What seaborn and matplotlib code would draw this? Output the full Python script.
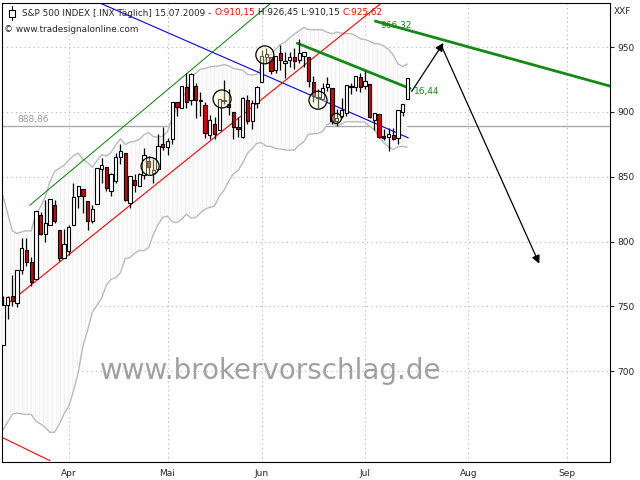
import numpy as np
import pandas as pd
import seaborn as sns
import matplotlib
matplotlib.use("Agg")
import matplotlib.pyplot as plt
from matplotlib.patches import Ellipse

closes = [750.7,756.6,753.9,778.1,794.4,784.0,768.5,823.0,806.1,813.9,832.9,815.9,787.5,797.9,
          811.1,834.4,842.5,835.5,815.6,825.2,856.6,858.7,841.5,852.1,865.3,869.6,832.4,850.1,843.6,851.9,866.2,857.5,855.2,873.6,872.8,
          877.5,907.2,903.8,919.5,907.4,929.2,909.2,908.4,883.9,893.1,882.9,909.7,908.1,903.5,888.3,887.0,910.3,893.1,906.8,919.1,
          942.9,944.7,931.8,942.5,940.1,939.1,942.4,939.2,944.9,946.2,923.7,912.0,910.7,918.4,921.2,893.0,895.1,900.9,920.3,918.9,927.2,919.3,
          923.3,896.4,898.7,881.0,879.6,882.7,879.1,901.1,905.8,925.6]
opens = [720.0,751.0,758.0,753.0,778.0,793.0,784.0,771.0,820.0,806.0,813.0,828.0,809.0,787.0,
         793.0,813.0,835.0,840.0,831.0,816.0,829.0,856.0,857.0,839.0,847.0,865.0,868.0,830.0,847.0,843.0,851.0,862.0,853.0,856.0,875.0,
         872.7,879.0,907.0,903.0,919.0,909.0,920.0,909.0,905.0,882.0,890.0,886.0,909.0,906.0,900.0,888.0,881.0,909.0,893.0,907.0,
         923.0,942.0,942.0,932.0,945.0,938.0,940.0,942.0,940.0,943.0,942.0,923.0,911.0,910.0,919.0,918.0,893.0,897.0,899.0,920.0,919.0,927.0,
         920.0,921.0,894.0,898.0,881.0,881.0,882.0,880.0,900.0,910.2]
highs = [758.3,758.3,774.5,778.1,803.0,803.0,788.0,823.0,823.0,832.0,833.0,832.0,809.0,810.0,
         813.0,845.0,842.5,835.5,831.0,828.0,856.9,864.3,857.0,853.0,868.0,875.6,868.0,850.1,852.0,853.0,871.8,866.0,864.0,883.0,888.0,
         880.0,907.9,907.7,919.5,930.0,930.0,922.0,915.0,908.0,898.0,896.0,910.0,924.6,918.0,900.0,896.0,911.8,913.0,909.0,920.0,
         947.8,949.0,942.0,942.5,951.7,946.0,946.0,949.0,956.2,946.3,942.0,928.0,918.0,922.0,927.0,918.0,902.0,911.0,921.0,922.0,928.0,930.0,
         931.9,921.0,898.7,898.0,886.8,887.9,887.9,901.1,906.0,926.4]
lows = [739.0,740.0,750.0,749.5,775.0,781.0,766.0,772.0,805.0,800.0,814.0,814.0,785.0,787.0,
        790.0,813.0,826.0,822.0,809.0,814.0,829.0,845.0,839.0,835.0,845.0,860.0,831.0,826.0,838.0,843.0,848.0,852.0,845.0,856.0,871.0,
        867.0,875.0,897.0,903.0,903.0,905.0,895.0,897.0,880.0,879.0,879.0,886.0,906.0,898.0,879.0,881.0,880.0,891.0,887.0,903.0,
        923.0,938.0,929.0,930.0,932.0,926.0,935.0,933.0,938.0,935.0,919.0,908.0,903.0,910.0,916.0,891.0,889.0,895.0,897.0,914.0,916.0,915.0,
        918.0,895.0,886.0,880.0,878.0,870.0,878.0,875.0,897.0,910.0]
prior_closes = [833.7,835.2,826.8,789.2,788.4,778.9,770.1,743.3,773.1,764.9,752.8,735.1,700.8,696.3,712.9,682.6,683.4,676.5,719.6,721.4]

month_pos = [14, 35, 55, 77, 99, 120]
month_labels = ["Apr", "Mai", "Jun", "Jul", "Aug", "Sep"]
y_ticks = [700, 750, 800, 850, 900, 950]

n = len(closes)
idx = np.arange(n)
allc = pd.Series(prior_closes + closes)
mid = allc.rolling(20).mean()
sd = allc.rolling(20).std(ddof=0)
upper = (mid + 2 * sd).values[len(prior_closes):]
lower = (mid - 2 * sd).values[len(prior_closes):]

sns.set_style("white")
plt.rcParams['font.family'] = ['DejaVu Sans']
plt.rcParams['hatch.linewidth'] = 0.5
fig = plt.figure(figsize=(6.4, 4.8), dpi=100)
ax = fig.add_axes([2/640, 1-462/480, 608/640, 459/480])
ax.set_xlim(-0.2, 129.1)
ax.set_ylim(630, 984)

# Bollinger band
ax.fill_between(idx, lower, upper, facecolor="#fbfbfb", edgecolor="#ececec", hatch="||||", linewidth=0)
band = pd.DataFrame({"i": np.concatenate([idx, idx]), "v": np.concatenate([upper, lower]),
                     "s": ["u"] * n + ["l"] * n})
sns.lineplot(data=band, x="i", y="v", units="s", estimator=None, color="#bbbbbb", lw=1, ax=ax, legend=False)

# grid
gcol = "#a8b8a8"
for m in month_pos:
    ax.axvline(m, color=gcol, ls=(0, (1, 3)), lw=0.8, zorder=0.5)
for t in y_ticks:
    ax.axhline(t, color=gcol, ls=(0, (1, 3)), lw=0.8, zorder=0.5)
ax.axhline(888.86, color="#aaaaaa", lw=1, zorder=0.6)
ax.text(3, 890.5, "888,86", fontsize=6.5, color="#999999", va="bottom")

# trend lines
ax.plot([20.6, 86.2], [984, 880], color="#0000ff", lw=0.8)
ax.plot([5.7, 57], [828, 984], color="#008000", lw=0.7)
ax.plot([1, 80.5], [752, 984], color="#ff0000", lw=0.8)
ax.plot([-0.2, 10], [649, 631], color="#ff0000", lw=0.8)
ax.plot([62.6, 86.6], [953, 918], color="#138a13", lw=2)
ax.plot([79.2, 133], [970, 916], color="#138a13", lw=2)
ax.text(80.2, 967, "966,32", color="#138a13", fontsize=6.5, va="center")
ax.text(87.5, 916, "16,44", color="#138a13", fontsize=6.5, va="center")

# candles
col = ["white" if c >= o else "#e00000" for o, c in zip(opens, closes)]
ax.vlines(idx, lows, highs, color="black", lw=0.9, zorder=3)
ax.bar(idx, np.abs(np.array(closes) - np.array(opens)) + 0.3, bottom=np.minimum(opens, closes),
       width=0.7, color=col, edgecolor="black", lw=0.8, zorder=4)

# circles
for cx, cy, r in [(31.3, 858, 9), (46.6, 910, 9), (55.7, 944, 9), (67, 909, 9), (70.9, 895, 5)]:
    ax.add_patch(Ellipse((cx, cy), 2 * r / 4.7, 2 * r / 1.3, fc="#ffffc8", alpha=0.35, ec="none", zorder=5))
    ax.add_patch(Ellipse((cx, cy), 2 * r / 4.7, 2 * r / 1.3, fill=False, ec="black", lw=0.9, zorder=5))

# arrows
ax.annotate("", xy=(94, 955), xytext=(86.6, 914),
            arrowprops=dict(arrowstyle="-|>", color="black", lw=0.9, mutation_scale=12))
ax.annotate("", xy=(114.3, 781), xytext=(93, 953),
            arrowprops=dict(arrowstyle="-|>", color="black", lw=0.9, mutation_scale=12))

# watermark
ax.text(57, 700, "www.brokervorschlag.de", fontsize=20, color="#a0a0a0", ha="center", va="center", zorder=6)

# header
tr = ax.transAxes
y1 = 1 - 10/459
fs = 6.4
t1 = ax.text(20/608, y1, "S&P 500 INDEX [.INX Täglich] 15.07.2009 - ", fontsize=fs, va="center", transform=tr)
t2 = ax.annotate("O:910,15", xy=(1, 0.5), xycoords=t1, fontsize=fs, color="red", va="center")
t3 = ax.annotate(" H:926,45 L:910,15 ", xy=(1, 0.5), xycoords=t2, fontsize=fs, va="center")
ax.annotate("C:925,62", xy=(1, 0.5), xycoords=t3, fontsize=fs, color="red", va="center")
ax.text(2/608, 1 - 27/459, "© www.tradesignalonline.com", fontsize=fs, va="center", transform=tr)
ax.plot([10/608, 10/608], [1-3/459, 1-17/459], color="black", lw=0.8, transform=tr)
ax.add_patch(plt.Rectangle((7/608, 1-14/459), 6/608, 7/459, fc="white", ec="black", lw=0.8, transform=tr, zorder=7))
fig.text(614/640, 1-12/480, "XXF", fontsize=6.5, va="center")

ax.set_xticks(month_pos)
ax.set_xticklabels(month_labels, fontsize=6.5)
ax.yaxis.tick_right()
ax.set_yticks(y_ticks)
ax.set_yticklabels([str(t) for t in y_ticks], fontsize=6.5)
ax.tick_params(length=3, width=0.8, pad=2)
ax.set_xlabel("")
ax.set_ylabel("")
for s in ax.spines.values():
    s.set_color("black")
    s.set_linewidth(0.8)

fig.savefig("out.png", dpi=100, facecolor="white")
